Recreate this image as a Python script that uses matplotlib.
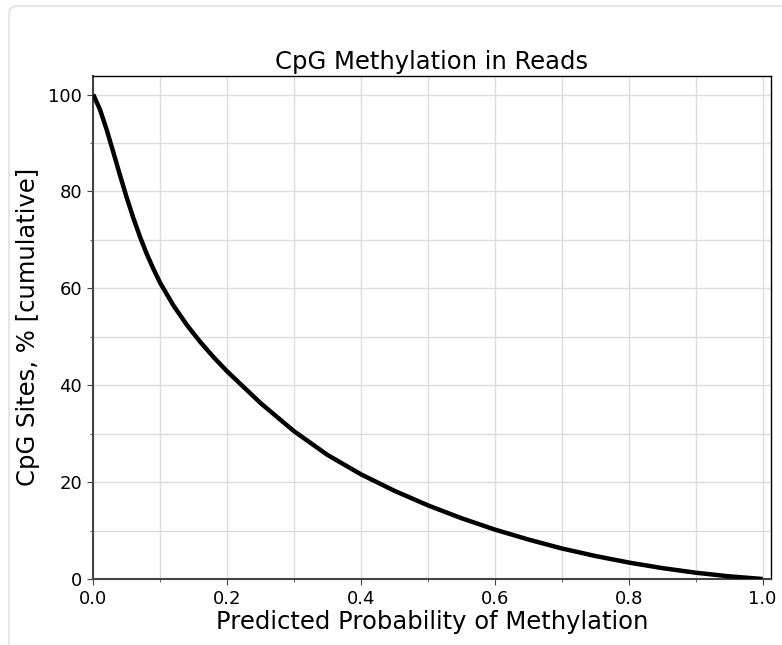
import matplotlib
matplotlib.use('Agg')
import matplotlib.pyplot as plt
from matplotlib.patches import FancyBboxPatch
from matplotlib.ticker import MultipleLocator

# values
prob = [0.0, 0.01, 0.02, 0.03, 0.04, 0.05, 0.06, 0.07, 0.08, 0.09, 0.10,
        0.12, 0.14, 0.16, 0.18, 0.20, 0.25, 0.30, 0.35, 0.40, 0.45, 0.50,
        0.55, 0.60, 0.65, 0.70, 0.75, 0.80, 0.85, 0.90, 0.95, 1.0]
sites = [100.0, 96.9, 92.75, 88.05, 83.3, 78.7, 74.45, 70.55, 67.05, 63.95, 61.1,
         56.4, 52.4, 48.9, 45.75, 42.85, 36.3, 30.5, 25.6, 21.6, 18.2, 15.2,
         12.55, 10.2, 8.15, 6.3, 4.75, 3.4, 2.25, 1.3, 0.55, 0.0]

fig = plt.figure(figsize=(7.82, 6.45), dpi=100)

# light rounded frame around the figure
top = 1 - 6 / 645
frame = FancyBboxPatch((9 / 782, -0.2), 1.2, top + 0.2,
                       boxstyle="round,pad=0,rounding_size=0.012",
                       transform=fig.transFigure, facecolor='none',
                       edgecolor='#e6e6e6', linewidth=1.5)
fig.patches.append(frame)

ax = fig.add_axes([93.3 / 782, 1 - 579 / 645, (770.7 - 93.3) / 782, (579 - 75.7) / 645])
ax.plot(prob, sites, color='black', linewidth=3.2, solid_capstyle='butt', zorder=3)

ax.set_xlim(0, 1.012)
ax.set_ylim(0, 103.9)
ax.xaxis.set_major_locator(MultipleLocator(0.2))
ax.xaxis.set_minor_locator(MultipleLocator(0.1))
ax.yaxis.set_major_locator(MultipleLocator(20))
ax.yaxis.set_minor_locator(MultipleLocator(10))
ax.grid(True, which='both', color='#dcdcdc', linewidth=1.0)
ax.set_axisbelow(True)

ax.tick_params(axis='both', which='major', labelsize=13, length=4.5, color='#444444')
ax.tick_params(axis='both', which='minor', length=2.5, color='#444444')
for s in ['left', 'bottom']:
    ax.spines[s].set_color('#444444')
    ax.spines[s].set_linewidth(1.5)
for s in ['top', 'right']:
    ax.spines[s].set_linewidth(1.0)

ax.set_title("CpG Methylation in Reads", fontsize=17.5, pad=5)
ax.set_xlabel("Predicted Probability of Methylation", fontsize=17.5, labelpad=1)
ax.set_ylabel("CpG Sites, % [cumulative]", fontsize=17.5, labelpad=6)

fig.savefig('out.png', dpi=100)
